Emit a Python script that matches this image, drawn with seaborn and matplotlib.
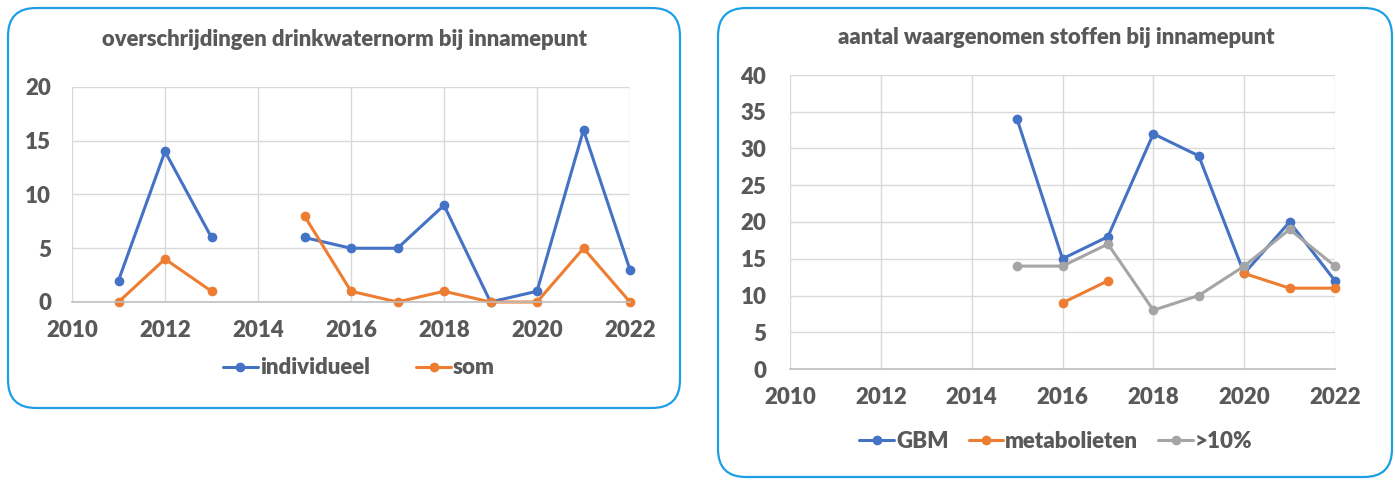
import numpy as np
import pandas as pd
import matplotlib
matplotlib.use("Agg")
import matplotlib.pyplot as plt
from matplotlib.patches import FancyBboxPatch
from matplotlib.lines import Line2D
import seaborn as sns

# ---- data ----
years = [2011, 2012, 2013, 2014, 2015, 2016, 2017, 2018, 2019, 2020, 2021, 2022]
individueel = [2, 14, 6, np.nan, 6, 5, 5, 9, 0, 1, 16, 3]
som = [0, 4, 1, np.nan, 8, 1, 0, 1, 0, 0, 5, 0]

years_r = [2015, 2016, 2017, 2018, 2019, 2020, 2021, 2022]
gbm = [34, 15, 18, 32, 29, 13, 20, 12]
metabolieten = [np.nan, 9, 12, np.nan, np.nan, 13, 11, 11]
boven10 = [14, 14, 17, 8, 10, 14, 19, 14]

title_left = "overschrijdingen drinkwaternorm bij innamepunt"
title_right = "aantal waargenomen stoffen bij innamepunt"
xticks = [2010, 2012, 2014, 2016, 2018, 2020, 2022]

BLUE, ORANGE, GRAY = "#4472C4", "#ED7D31", "#A5A5A5"
TXT = "#595959"
BORDER = "#1CA0E3"

sns.set_theme(style="white")
plt.rcParams["font.family"] = ["Lato", "DejaVu Sans"]
plt.rcParams["font.weight"] = "bold"


def to_long(x, series):
    rows = []
    for name, vals in series.items():
        seg = 0
        prev_nan = True
        for xi, v in zip(x, vals):
            if np.isnan(v):
                prev_nan = True
                continue
            if prev_nan:
                seg += 1
                prev_nan = False
            rows.append({"year": xi, "value": v, "series": name, "seg": f"{name}-{seg}"})
    return pd.DataFrame(rows)


fig = plt.figure(figsize=(13.95, 4.8), dpi=100)

# rounded borders (inches)
for (x0, y0, w, h) in [(0.08, 0.72, 6.72, 4.0), (7.18, 0.03, 6.74, 4.69)]:
    p = FancyBboxPatch((x0, y0), w, h, boxstyle="round,pad=0,rounding_size=0.28",
                       transform=fig.dpi_scale_trans, facecolor="none",
                       edgecolor=BORDER, linewidth=1.6, zorder=-1)
    fig.patches.append(p)


def style_axes(ax, ymax, ystep, pad_y):
    ax.set_xlim(2010, 2022)
    ax.set_ylim(0, ymax)
    ax.set_xticks(xticks)
    ax.set_yticks(np.arange(0, ymax + 1, ystep))
    ax.grid(True, color="#D9D9D9", linewidth=1.0)
    ax.set_axisbelow(True)
    for s in ["top", "right", "left"]:
        ax.spines[s].set_visible(False)
    ax.spines["bottom"].set_color("#BFBFBF")
    ax.spines["bottom"].set_linewidth(1.2)
    ax.tick_params(axis="both", length=0, labelsize=16, labelcolor=TXT)
    ax.tick_params(axis="y", pad=pad_y)
    ax.tick_params(axis="x", pad=13)
    for lab in ax.get_xticklabels() + ax.get_yticklabels():
        lab.set_fontweight("heavy")
    ax.set_xlabel("")
    ax.set_ylabel("")
    ax.patch.set_alpha(0)


# left chart
ax1 = fig.add_axes([72 / 1395, 1 - 302 / 480, (630 - 72) / 1395, (302 - 87) / 480])
df1 = to_long(years, {"individueel": individueel, "som": som})
sns.lineplot(data=df1, x="year", y="value", hue="series", units="seg", estimator=None,
             palette={"individueel": BLUE, "som": ORANGE}, marker="o", markersize=7,
             markeredgewidth=0, linewidth=2.2, legend=False, ax=ax1)
style_axes(ax1, 20, 5, 15)
for l in ax1.lines:
    l.set_clip_on(False)

# right chart
ax2 = fig.add_axes([790 / 1395, 1 - 369 / 480, (1335 - 790) / 1395, (369 - 75) / 480])
df2 = to_long(years_r, {"GBM": gbm, "metabolieten": metabolieten, ">10%": boven10})
sns.lineplot(data=df2, x="year", y="value", hue="series", units="seg", estimator=None,
             palette={"GBM": BLUE, "metabolieten": ORANGE, ">10%": GRAY},
             hue_order=["GBM", "metabolieten", ">10%"], marker="o", markersize=7,
             markeredgewidth=0, linewidth=2.2, legend=False, ax=ax2)
style_axes(ax2, 40, 5, 17)
for l in ax2.lines:
    l.set_clip_on(False)

# titles
fig.text(345 / 1395, 1 - 40 / 480, title_left, ha="center", va="center",
         fontsize=15.8, fontweight="heavy", color=TXT)
fig.text(1056 / 1395, 1 - 38 / 480, title_right, ha="center", va="center",
         fontsize=15.8, fontweight="heavy", color=TXT)


def handle(c):
    return Line2D([], [], color=c, marker="o", markersize=7, markeredgewidth=0, linewidth=2.2)


leg1 = fig.legend([handle(BLUE), handle(ORANGE)], ["individueel", "som"],
                  loc="center", bbox_to_anchor=(359 / 1395, 1 - 368 / 480), ncol=2,
                  frameon=False, fontsize=16, handlelength=1.55, handletextpad=0.1,
                  columnspacing=2.1)
leg2 = fig.legend([handle(BLUE), handle(ORANGE), handle(GRAY)], ["GBM", "metabolieten", ">10%"],
                  loc="center", bbox_to_anchor=(1056 / 1395, 1 - 441 / 480), ncol=3,
                  frameon=False, fontsize=16, handlelength=1.55, handletextpad=0.1,
                  columnspacing=0.9)
for leg in (leg1, leg2):
    for t in leg.get_texts():
        t.set_color(TXT)
        t.set_fontweight("heavy")

fig.savefig("out.png", dpi=100)
